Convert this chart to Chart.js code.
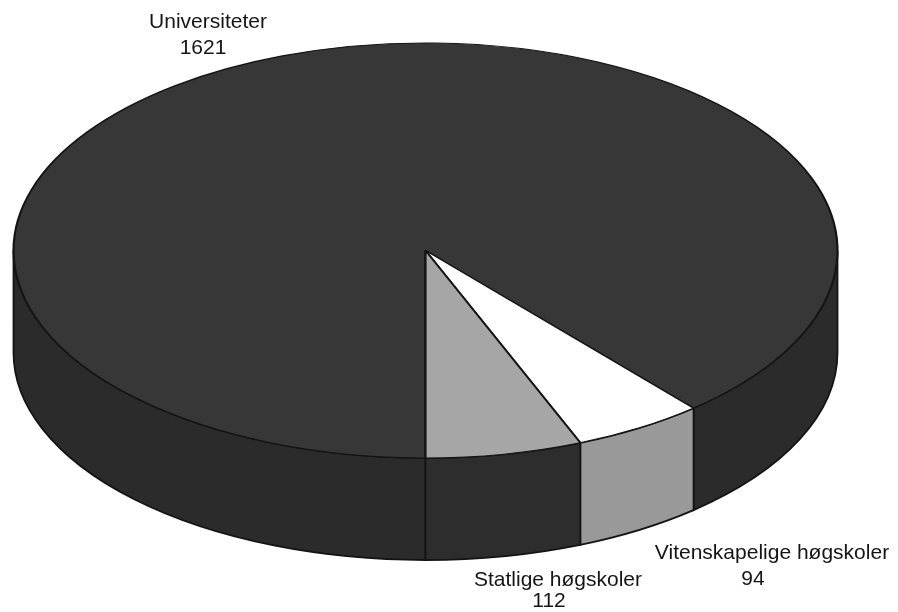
<!DOCTYPE html>
<html>
<head>
<meta charset="utf-8">
<style>
html, body { margin: 0; padding: 0; background: #fff; }
#box { width: 898px; height: 612px; }
</style>
<script src="https://cdn.jsdelivr.net/npm/chart.js@4"></script>
</head>
<body>
<div id="box"><canvas id="pie3d"></canvas></div>
<script>
var categories = ['Universiteter', 'Vitenskapelige høgskoler', 'Statlige høgskoler'];
var values = [1621, 94, 112];
var topColors = ['#373737', '#ffffff', '#a6a6a6'];
var wallColors = ['#2b2b2b', '#999999', '#2d2d2d'];
var labelX = [208, 772, 558];
var labelY = [22, 553, 580];
var valueX = [203, 753, 549];
var valueY = [48, 579, 601];

/*椭圆和厚度*/
var cx = 425.5, cy = 250.5, rx = 412, ry = 207.5, depth = 102;

var flatPie = {
    id: 'flatPie',
    beforeDatasetsDraw: function(chart) {
        var arcs = chart.getDatasetMeta(0).data;
        var ctx = chart.ctx;
        var r = arcs[0].outerRadius;
        /*侧面*/
        ctx.save();
        ctx.lineWidth = 1.8;
        ctx.strokeStyle = '#141414';
        for (var i = 0; i < arcs.length; i++) {
            for (var k = -1; k <= 1; k++) {
                var a0 = Math.max(arcs[i].startAngle, k * 2 * Math.PI);
                var a1 = Math.min(arcs[i].endAngle, k * 2 * Math.PI + Math.PI);
                if (a1 <= a0) continue;
                ctx.beginPath();
                ctx.ellipse(cx, cy, rx, ry, 0, a0, a1, false);
                ctx.ellipse(cx, cy + depth, rx, ry, 0, a1, a0, true);
                ctx.closePath();
                ctx.fillStyle = wallColors[i];
                ctx.fill();
                ctx.stroke();
            }
        }
        ctx.restore();
        /*压扁*/
        ctx.save();
        ctx.translate(cx, cy);
        ctx.scale(rx / r, ry / r);
        ctx.translate(-arcs[0].x, -arcs[0].y);
    },
    afterDatasetsDraw: function(chart) {
        chart.ctx.restore();
    },
    afterDraw: function(chart) {
        var ctx = chart.ctx;
        ctx.save();
        ctx.fillStyle = '#151515';
        ctx.font = '21px "Liberation Sans", Arial, sans-serif';
        ctx.textAlign = 'center';
        ctx.textBaseline = 'middle';
        for (var i = 0; i < categories.length; i++) {
            ctx.fillText(categories[i], labelX[i], labelY[i]);
            ctx.fillText(String(values[i]), valueX[i], valueY[i]);
        }
        ctx.restore();
    }
};

var ctx = document.getElementById('pie3d').getContext('2d');
var myChart = new Chart(ctx, {
    type: 'pie',
    data: {
        labels: categories,
        datasets: [{
            data: values,
            backgroundColor: topColors,
            borderColor: '#141414',
            borderWidth: 1.6,
            borderAlign: 'center'
        }]
    },
    options: {
        responsive: true,
        maintainAspectRatio: false,
        animation: false,
        rotation: 180,
        layout: { padding: 0 },
        plugins: {
            legend: { display: false },
            tooltip: { enabled: false }
        }
    },
    plugins: [flatPie]
});
</script>
</body>
</html>
